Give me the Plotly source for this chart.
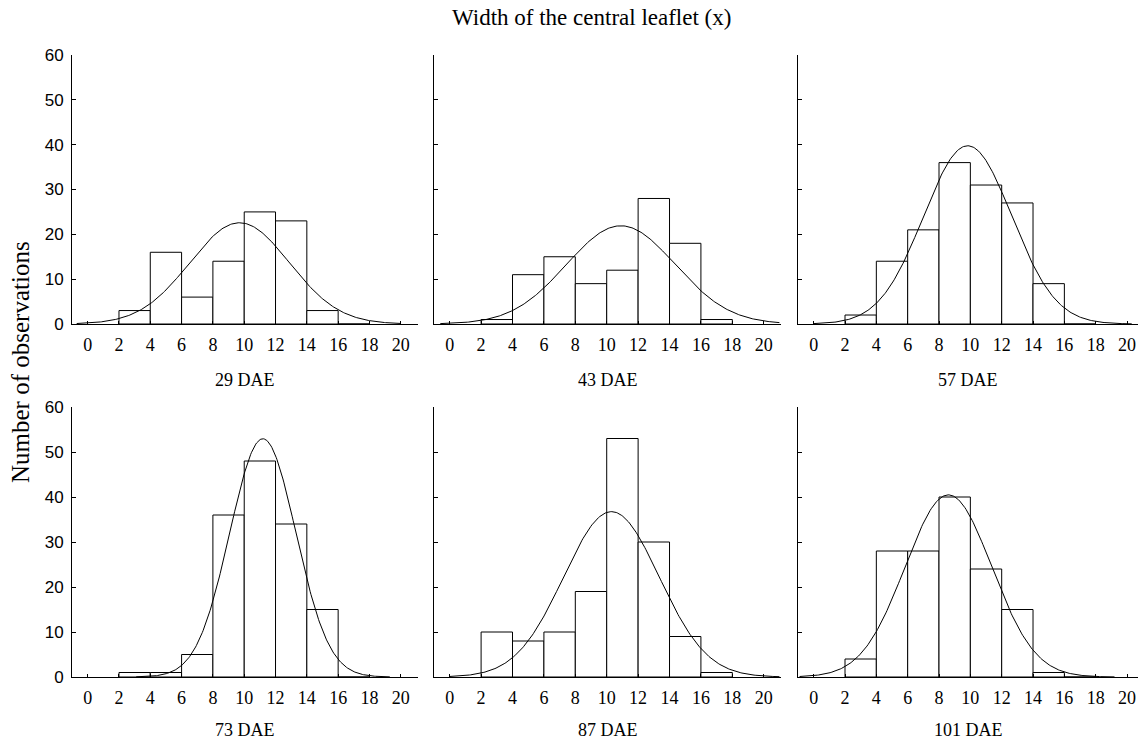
import numpy as np
import plotly.graph_objects as go

# ---- data ----
panel_labels = ["29 DAE", "43 DAE", "57 DAE", "73 DAE", "87 DAE", "101 DAE"]
bin_left = [2, 4, 6, 8, 10, 12, 14, 16]
bin_width = 2
counts_29 = [3, 16, 6, 14, 25, 23, 3, 0]
counts_43 = [1, 11, 15, 9, 12, 28, 18, 1]
counts_57 = [2, 14, 21, 36, 31, 27, 9, 0]
counts_73 = [1, 1, 5, 36, 48, 34, 15, 0]
counts_87 = [10, 8, 10, 19, 53, 30, 9, 1]
counts_101 = [4, 28, 28, 40, 24, 15, 1, 0]
# fitted normal curves (mean, sd) and the x-extent over which they are drawn
curve_mean = [9.7, 10.9, 9.83, 11.19, 10.3, 8.6]
curve_sd = [3.18, 3.46, 2.81, 2.11, 3.04, 2.76]
curve_start = [-0.7, -0.6, 0.0, 3.1, 0.0, -0.9]
curve_end = [20.0, 21.0, 20.3, 19.3, 21.0, 19.2]
x_ticks = [0, 2, 4, 6, 8, 10, 12, 14, 16, 18, 20]
y_ticks = [0, 10, 20, 30, 40, 50, 60]

all_counts = [counts_29, counts_43, counts_57, counts_73, counts_87, counts_101]

# the page body margin is removed below, so the figure fills the window
W, H = 1138, 742
x_domains = [(72, 418), (434, 781), (798, 1138)]
x_ranges = [(-1.0, 21.1), (-1.0, 21.1), (-1.0, 20.7)]
y_domains = [(55, 324), (407, 677)]  # pixel rows (top, bottom)


def px(v):
    return v / W


def py(v):
    return 1 - v / H


fig = go.Figure()
layout = dict(
    width=W, height=H,
    margin=dict(l=0, r=0, t=0, b=0),
    paper_bgcolor="white", plot_bgcolor="white",
    showlegend=False,
)

annotations = []
for i in range(6):
    row, col = divmod(i, 3)
    ax = "" if i == 0 else str(i + 1)
    xa, ya = "x" + ax, "y" + ax
    counts = all_counts[i]
    centers = [b + bin_width / 2 for b in bin_left]
    fig.add_trace(go.Bar(
        x=centers, y=counts, width=[bin_width] * len(centers),
        marker=dict(color="white", line=dict(color="black", width=1)),
        xaxis=xa, yaxis=ya, hoverinfo="skip",
    ))
    n = sum(counts)
    xs = np.linspace(curve_start[i], curve_end[i], 300)
    mu, sd = curve_mean[i], curve_sd[i]
    ys = n * bin_width / (sd * np.sqrt(2 * np.pi)) * np.exp(-(xs - mu) ** 2 / (2 * sd ** 2))
    fig.add_trace(go.Scatter(
        x=xs, y=ys, mode="lines", line=dict(color="black", width=1),
        xaxis=xa, yaxis=ya, hoverinfo="skip",
    ))
    x0, x1 = x_domains[col]
    top, bot = y_domains[row]
    layout["xaxis" + ax] = dict(
        domain=[px(x0), min(px(x1), 1.0)], range=list(x_ranges[col]),
        anchor=ya, tickvals=x_ticks, ticks="inside", ticklen=3,
        tickcolor="black", showline=True, linecolor="black", linewidth=1,
        showgrid=False, zeroline=False, automargin=False,
        tickfont=dict(family="Liberation Serif", size=18, color="black"),
        ticklabelstandoff=4, ticklabeloverflow="allow",
    )
    layout["yaxis" + ax] = dict(
        domain=[py(bot), py(top)], range=[0, 60],
        anchor=xa, tickvals=y_ticks, ticks="inside", ticklen=4,
        tickcolor="black", showline=True, linecolor="black", linewidth=1,
        showgrid=False, zeroline=False, automargin=False,
        showticklabels=(col == 0),
        tickfont=dict(family="Liberation Sans", size=17, color="black"),
        ticklabelstandoff=4, ticklabeloverflow="allow",
    )
    label_y = [380, 730][row]
    annotations.append(dict(
        text=panel_labels[i], x=px((x0 + x1) / 2), y=py(label_y),
        xref="paper", yref="paper", xanchor="center", yanchor="middle",
        showarrow=False, font=dict(family="Liberation Serif", size=18, color="black"),
    ))

annotations.append(dict(
    text="Width of the central leaflet (x)", x=px(591), y=py(18),
    xref="paper", yref="paper", xanchor="center", yanchor="middle",
    showarrow=False, font=dict(family="Liberation Serif", size=23, color="black"),
))
annotations.append(dict(
    text="Number of observations", x=px(21), y=py(362), textangle=-90,
    xref="paper", yref="paper", xanchor="center", yanchor="middle",
    showarrow=False, font=dict(family="Liberation Serif", size=25, color="black"),
))
layout["annotations"] = annotations
layout["bargap"] = 0
fig.update_layout(**layout)
fig.write_html(
    "out.html",
    config={"displayModeBar": False, "staticPlot": True},
    post_script="document.body.style.margin='0';document.body.style.overflow='hidden';",
)
